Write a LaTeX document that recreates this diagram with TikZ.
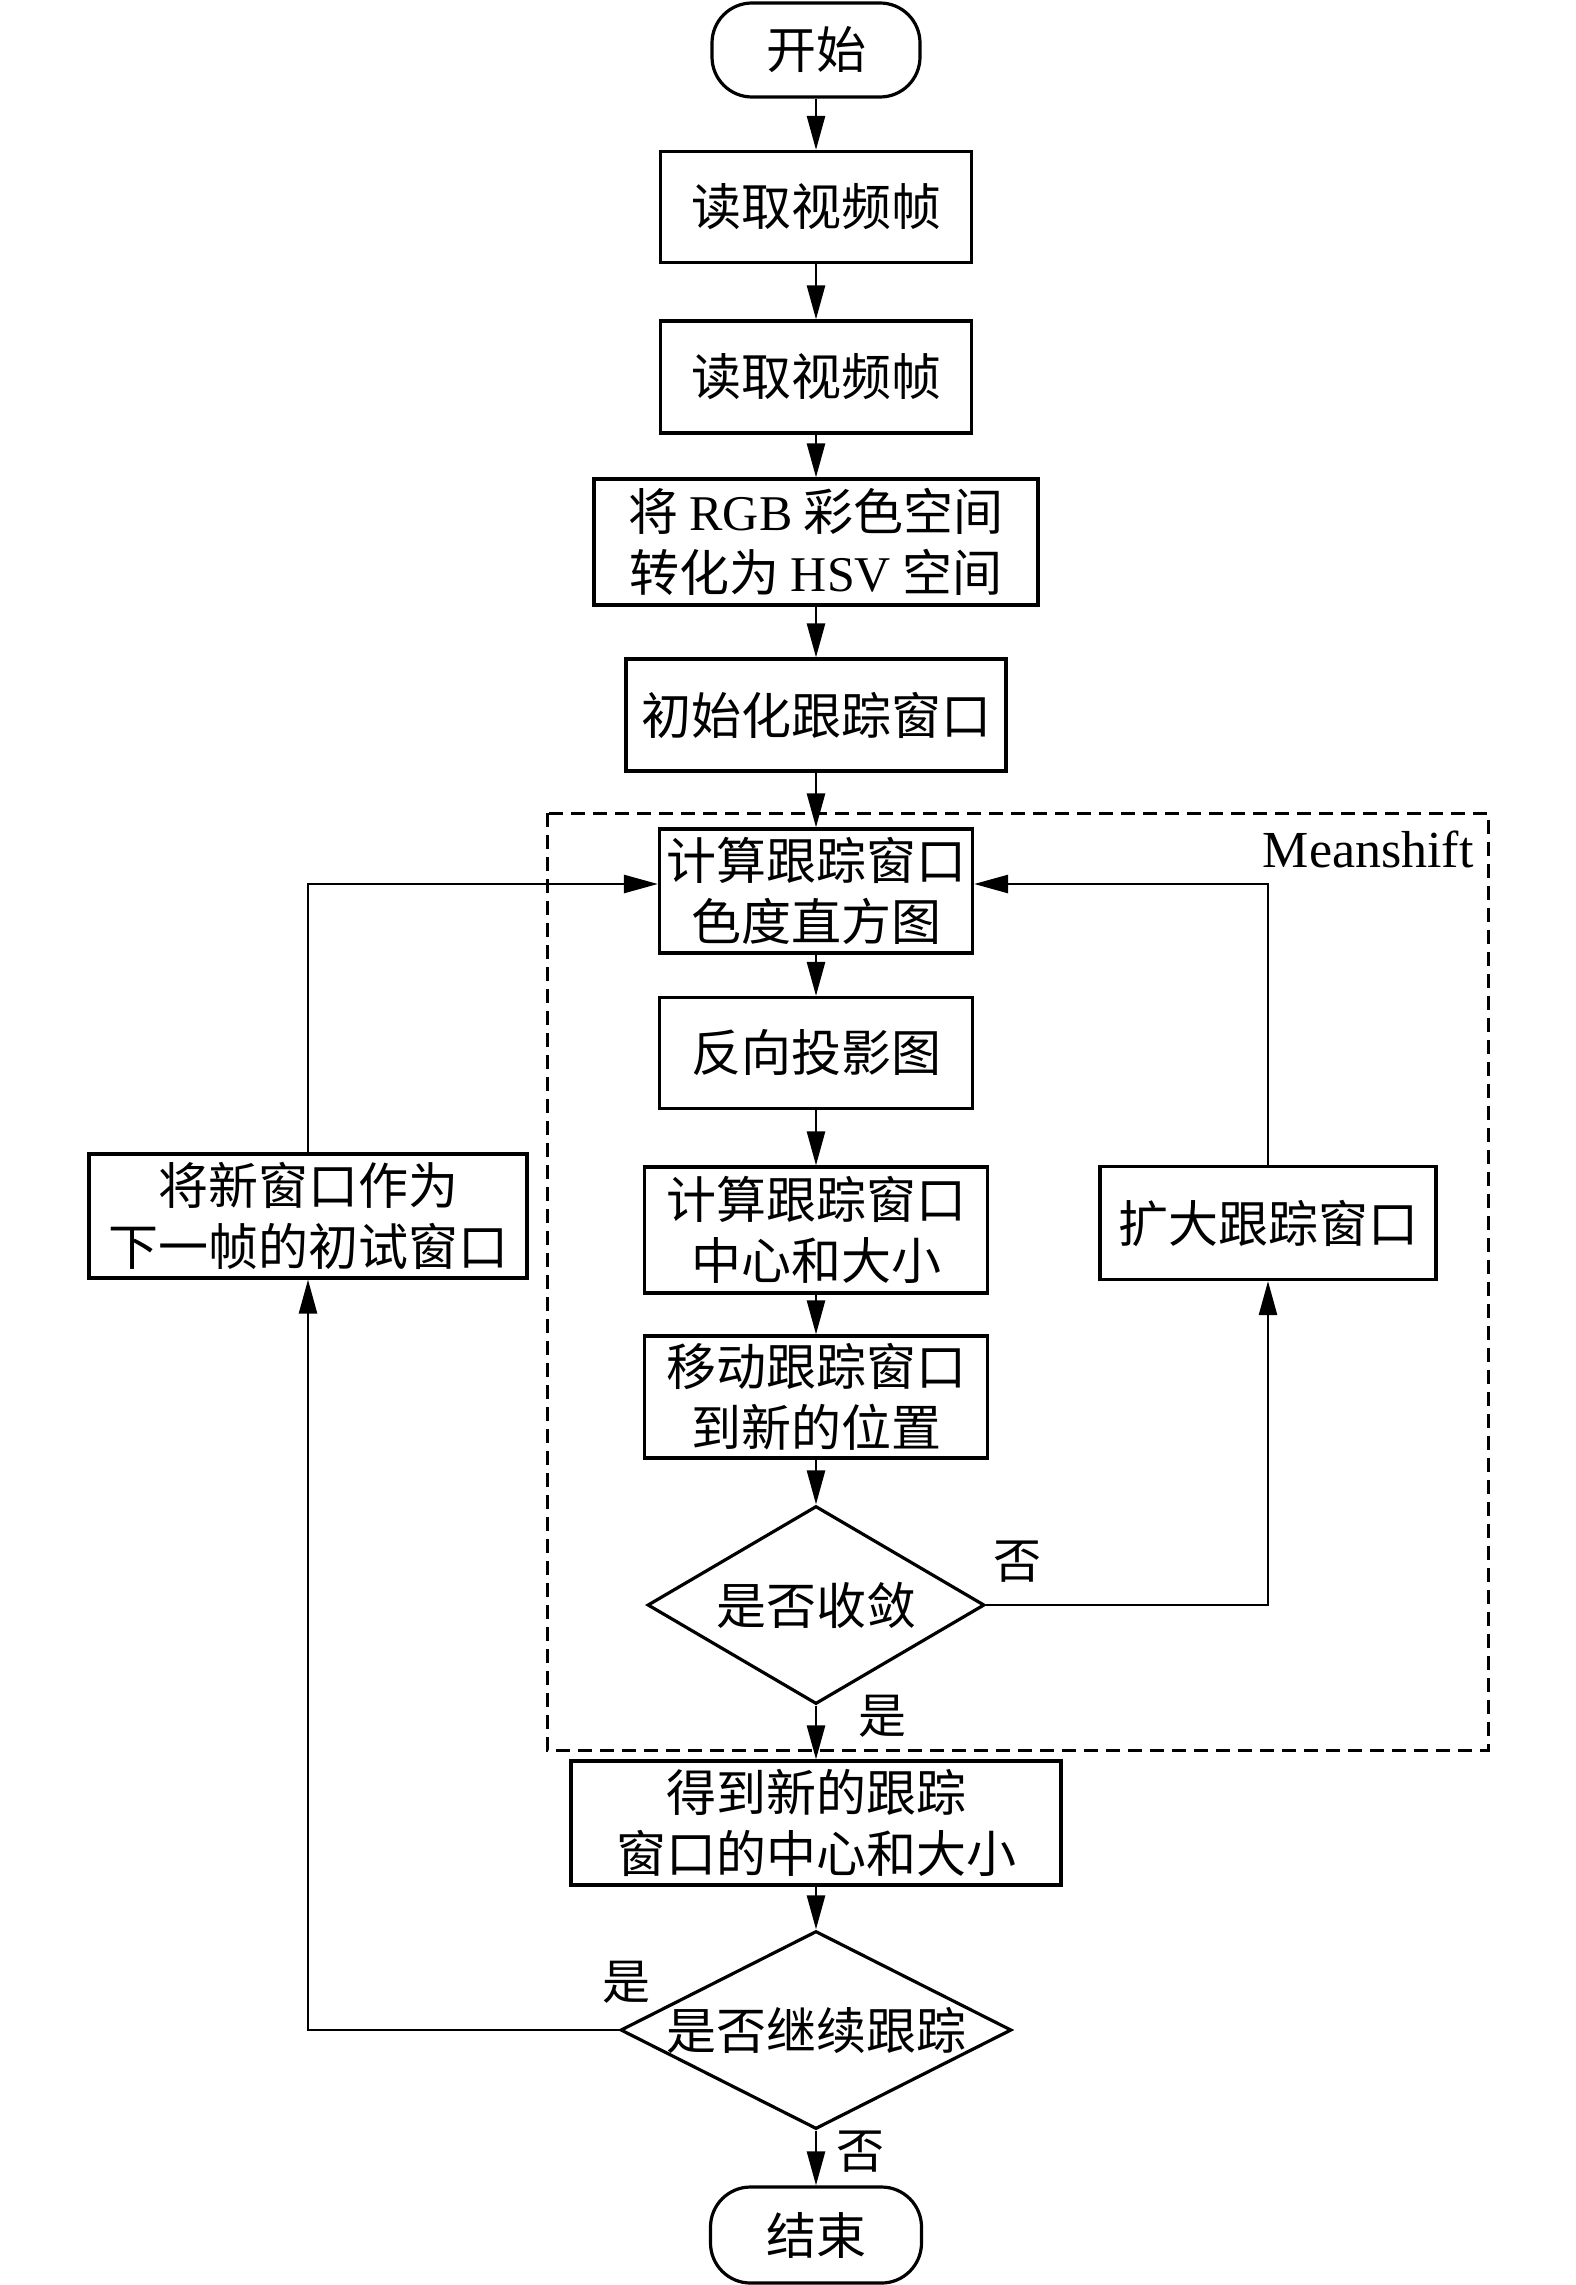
\documentclass[tikz,border=0pt]{standalone}
\usepackage{fontspec}
\setmainfont{Liberation Serif}
\newfontfamily\cjk{Noto Sans CJK SC}
\usetikzlibrary{arrows.meta,shapes.geometric,calc}
\newcommand\latn[1]{{\rmfamily #1}}
\begin{document}
\begin{tikzpicture}[x=0.5pt,y=-0.5pt,
  base/.style={draw, line width=1.6pt, inner sep=0pt, align=center, font=\cjk\fontsize{25}{30.5}\selectfont},
  proc/.style={base, rectangle},
  term/.style={base, rectangle, rounded corners=20pt},
  dec/.style={draw, line width=1.6pt, diamond, inner sep=0pt},
  txt/.style={inner sep=0pt, align=center, font=\cjk\fontsize{25}{30.5}\selectfont},
  lbl/.style={inner sep=0pt, font=\cjk\fontsize{24}{24}\selectfont},
  conn/.style={line width=1.3pt, -{Triangle[length=17pt,width=9pt]}},
  wire/.style={line width=1.3pt}]
\useasboundingbox (0,0) rectangle (1575,2285);
\fill[white] (0,0) rectangle (1575,2285);

% Meanshift region
\draw[line width=1.5pt, dash pattern=on 7pt off 4pt] (547,813) rectangle (1488,1750);
\node[anchor=base east, inner sep=0pt, font=\fontsize{26}{26}\selectfont] (ms) at (1474,867) {Meanshift};

\node[term, minimum width=104pt, minimum height=47pt] (start) at (816,50) {开始};
\node[proc, minimum width=155.5pt, minimum height=55.5pt] (b1) at (816,207) {读取视频帧};
\node[proc, minimum width=155.5pt, minimum height=56pt] (b2) at (816,377) {读取视频帧};
\node[proc, minimum width=222pt, minimum height=63pt] (rgb) at (816,542) {将 \latn{RGB} 彩色空间\\转化为 \latn{HSV} 空间};
\node[proc, minimum width=190pt, minimum height=56pt] (init) at (816,715) {初始化跟踪窗口};
\node[proc, minimum width=156.5pt, minimum height=62pt] (hist) at (816,891) {计算跟踪窗口\\色度直方图};
\node[proc, minimum width=156.5pt, minimum height=55.5pt] (back) at (816,1053) {反向投影图};
\node[proc, minimum width=171.5pt, minimum height=63pt] (center) at (816,1230) {计算跟踪窗口\\中心和大小};
\node[proc, minimum width=171.5pt, minimum height=61pt] (move) at (816,1397) {移动跟踪窗口\\到新的位置};
\node[dec, minimum width=168.5pt, minimum height=99pt] (d1) at (816,1605) {};
\node[txt] (d1t) at (d1.center) {是否收敛};
\node[proc, minimum width=168pt, minimum height=56.5pt] (expand) at (1268,1223) {扩大跟踪窗口};
\node[proc, minimum width=219pt, minimum height=62pt] (left) at (308,1216) {将新窗口作为\\下一帧的初试窗口};
\node[proc, minimum width=245pt, minimum height=62pt] (result) at (816,1823) {得到新的跟踪\\窗口的中心和大小};
\node[dec, minimum width=195.5pt, minimum height=99pt] (d2) at (816,2030) {};
\node[txt] (d2t) at (d2.center) {是否继续跟踪};
\node[term, minimum width=105.5pt, minimum height=48pt] (end) at (816,2235) {结束};

\draw[conn] (start) -- (b1);
\draw[conn] (b1) -- (b2);
\draw[conn] (b2) -- (rgb);
\draw[conn] (rgb) -- (init);
\draw[conn] (init) -- (hist);
\draw[conn] (hist) -- (back);
\draw[conn] (back) -- (center);
\draw[conn] (center) -- (move);
\draw[conn] (move) -- (d1.north);
\draw[conn] (d1.south) -- (result.north);
\draw[conn] (d1.east) -| (expand.south);
\draw[conn] (expand.north) |- ([yshift=3.5pt]hist.east);
\draw[conn] (result) -- (d2.north);
\draw[conn] (d2.west) -| (left.south);
\draw[conn] (left.north) |- ([yshift=3.5pt]hist.west);
\draw[conn] (d2.south) -- (end.north);

\node[lbl] (l1) at (1017,1562) {否};
\node[lbl] (l2) at (882,1716) {是};
\node[lbl] (l3) at (626,1982) {是};
\node[lbl] (l4) at (860,2152) {否};
\end{tikzpicture}
\end{document}
